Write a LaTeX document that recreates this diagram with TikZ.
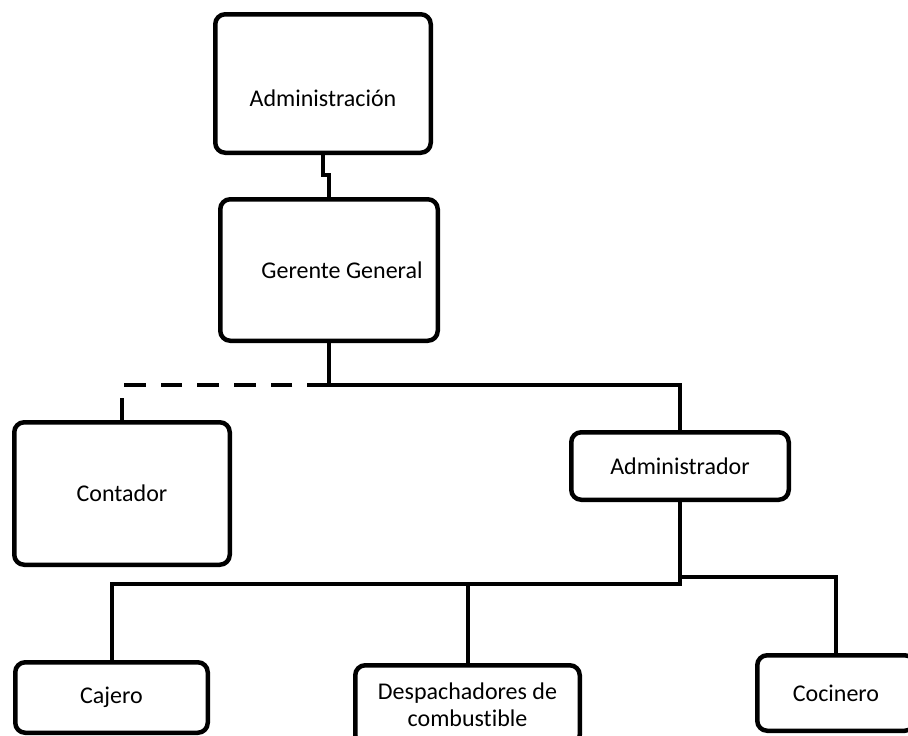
\documentclass[tikz,border=0pt]{standalone}
\usepackage{fontspec}
\setmainfont{Carlito}[Ligatures=NoCommon]

\begin{document}
\begin{tikzpicture}[x=1pt,y=-1pt,
    orgBox/.style={draw, line width=4.5pt, rounded corners=10pt, inner sep=0pt,
      align=center, font=\fontsize{24}{27}\selectfont},
    orgLink/.style={line width=4pt},
    dashLink/.style={line width=4pt, dash pattern=on 21.7pt off 15pt}]

  \useasboundingbox (0,0) rectangle (908,736);

  % draw the boxes
  \node[orgBox, minimum width=215.5pt, minimum height=138.5pt, text height=46pt, text depth=0pt] (admin) at (323,83.5) {Administración};
  \node[orgBox, minimum width=217.5pt, minimum height=141.5pt] (gerente) at (329,270) {\hspace*{26pt}Gerente General};
  \node[orgBox, minimum width=215.5pt, minimum height=142.5pt] (contador) at (122,493.5) {Contador};
  \node[orgBox, minimum width=217.5pt, minimum height=67.5pt] (adm) at (680,466) {Administrador};
  \node[orgBox, minimum width=192.5pt, minimum height=70.5pt] (cajero) at (111.5,697.5) {Cajero};
  \node[orgBox, minimum width=224.5pt, minimum height=79.5pt] (desp) at (467.5,705) {Despachadores de\\combustible};
  \node[orgBox, minimum width=157.5pt, minimum height=75.5pt] (cocinero) at (836,693) {Cocinero};

  % draw the links
  \draw[orgLink] (admin.south) -- ++(0,20) -| (gerente.north);
  \draw[orgLink] (gerente.south) -- ([yshift=-42pt]gerente.south) coordinate (ggJoin) -| (adm.north);
  \draw[dashLink] (ggJoin) -| (contador.north);

  % links under the administrador
  \draw[orgLink] (adm.south) -- ([yshift=-82pt]adm.south) coordinate (admJoin) -| (cajero.north);
  \draw[orgLink] ([yshift=-75pt]adm.south) -| (cocinero.north);
  \draw[orgLink] (desp.north) -- (desp.north |- admJoin);

\end{tikzpicture}
\end{document}
